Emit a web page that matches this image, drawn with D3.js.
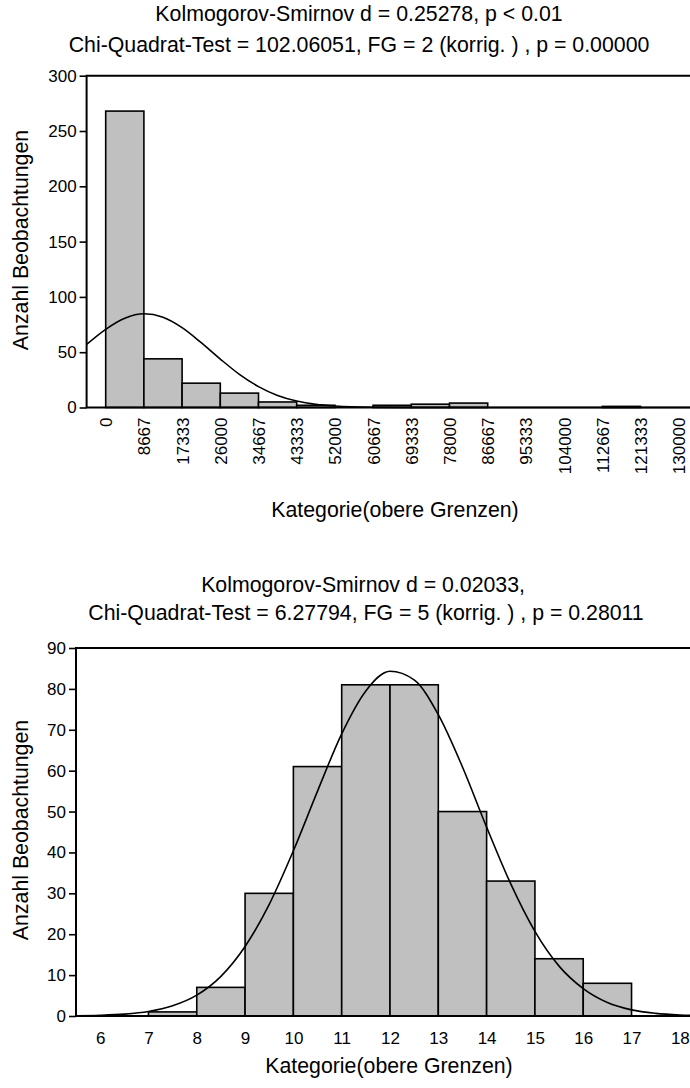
<!DOCTYPE html>
<html><head><meta charset="utf-8">
<script src="https://cdn.jsdelivr.net/npm/d3@7"></script>
<style>
body{margin:0;background:#fff}
svg{display:block;background:#fff}
text{font-family:"Liberation Sans",Arial,sans-serif;fill:#000}
</style>
</head><body>
<svg id="c" width="690" height="1088"></svg>
<script>
// ---------- Chart 1 data ----------
const titles1 = ["Kolmogorov-Smirnov d = 0.25278, p < 0.01",
                 "Chi-Quadrat-Test = 102.06051, FG = 2 (korrig. ) , p = 0.00000"];
const edges1 = [0, 8667, 17333, 26000, 34667, 43333, 52000, 60667, 69333, 78000,
                86667, 95333, 104000, 112667, 121333, 130000];
const counts1 = [268, 44, 22, 13, 5, 2, 0, 2, 3, 4, 0, 0, 0, 1, 0];
const yTicks1 = [0, 50, 100, 150, 200, 250, 300];
const curveX1 = [-4333, 0, 4333, 8667, 13000, 17333, 21667, 26000, 30333, 34667,
                 39000, 43333, 47667, 52000, 60667, 69333, 78000, 104000, 136000];
const curveY1 = [57, 70.7, 80.7, 84.7, 81.6, 72.2, 58.6, 43.8, 30.0, 18.9,
                 10.9, 5.8, 2.8, 1.3, 0.2, 0, 0, 0, 0];

// ---------- Chart 2 data ----------
const titles2 = ["Kolmogorov-Smirnov d = 0.02033, ",
                 "Chi-Quadrat-Test = 6.27794, FG = 5 (korrig. ) , p = 0.28011"];
const xTicks2 = [6, 7, 8, 9, 10, 11, 12, 13, 14, 15, 16, 17, 18];
const counts2 = [0, 1, 7, 30, 61, 81, 81, 50, 33, 14, 8, 0]; // bins 6-7 ... 17-18
const yTicks2 = [0, 10, 20, 30, 40, 50, 60, 70, 80, 90];
const curveX2 = [5.5, 6, 6.5, 7, 7.5, 8, 8.5, 9, 9.5, 10, 10.5, 11, 11.5, 12, 12.5,
                 13, 13.5, 14, 14.5, 15, 15.5, 16, 16.5, 17, 17.5, 18, 18.5];
const curveY2 = [0.06, 0.17, 0.45, 1.1, 2.5, 5.1, 9.7, 17.0, 27.3, 40.4, 55.0, 69.0, 79.5,
                 84.3, 82.2, 73.7, 60.9, 46.2, 32.3, 20.7, 12.2, 6.7, 3.3, 1.5, 0.65, 0.25, 0.1];

const xLabel = "Kategorie(obere Grenzen)";
const yLabel = "Anzahl Beobachtungen";

const svg = d3.select("#c");
const FT = 21.3;   // titles
const FA = 21.3;   // axis titles
const FK = 17;     // tick labels

function drawTitles(lines, cx, ys) {
  lines.forEach((t, i) => {
    svg.append("text").attr("x", cx).attr("y", ys[i]).attr("xml:space", "preserve")
      .attr("text-anchor", "middle").style("font-size", FT + "px").text(t);
  });
}

// ================= Chart 1 =================
(function () {
  const bw = 8666.67;
  const x = d3.scaleLinear().domain([-0.5 * bw, 15.5 * bw]).range([86.6, 697.8]);
  const y = d3.scaleLinear().domain([0, 300]).range([407.5, 75.7]);
  const g = svg.append("g");

  drawTitles(titles1, 359, [21, 52]);

  g.selectAll("rect.bar").data(counts1).join("rect")
    .attr("x", (d, i) => x(i * bw))
    .attr("width", (d, i) => x((i + 1) * bw) - x(i * bw))
    .attr("y", d => y(d))
    .attr("height", d => y(0) - y(d))
    .attr("fill", "#c0c0c0").attr("stroke", "#000").attr("stroke-width", 1.6)
    .attr("display", d => d > 0 ? null : "none");

  const line = d3.line().x(d => x(d[0])).y(d => y(d[1])).curve(d3.curveMonotoneX);
  g.append("path").datum(curveX1.map((v, i) => [v, curveY1[i]]))
    .attr("d", line).attr("fill", "none").attr("stroke", "#000").attr("stroke-width", 1.6);

  g.append("path")
    .attr("d", `M${x.range()[1]},${y(300)}H${x.range()[0]}V${y(0)}H${x.range()[1]}`)
    .attr("fill", "none").attr("stroke", "#000").attr("stroke-width", 2);

  const ya = g.append("g").attr("transform", `translate(${x.range()[0]},0)`)
    .call(d3.axisLeft(y).tickValues(yTicks1).tickSize(7).tickPadding(3));
  ya.select(".domain").remove();
  ya.selectAll("line").attr("stroke-width", 1.6);
  ya.selectAll("text").style("font-size", FK + "px").style("font-family", null);

  const xa = g.append("g").attr("transform", `translate(0,${y(0)})`)
    .call(d3.axisBottom(x).tickValues(edges1).tickSize(0).tickFormat(d3.format("d")));
  xa.select(".domain").remove();
  xa.selectAll("text")
    .attr("transform", "rotate(-90)")
    .attr("x", -10).attr("y", 0).attr("dy", "0.35em")
    .style("text-anchor", "end").style("font-size", FK + "px").style("font-family", null);

  svg.append("text").attr("x", 395).attr("y", 517).attr("text-anchor", "middle")
    .style("font-size", FA + "px").text(xLabel);
  svg.append("text").attr("transform", "translate(28,240) rotate(-90)")
    .attr("text-anchor", "middle").style("font-size", FA + "px").text(yLabel);
})();

// ================= Chart 2 =================
(function () {
  const x = d3.scaleLinear().domain([5.5, 18.5]).range([76, 704]);
  const y = d3.scaleLinear().domain([0, 90]).range([1016, 648]);
  const g = svg.append("g");

  drawTitles(titles2, 366, [592, 620]);

  g.selectAll("rect.bar").data(counts2).join("rect")
    .attr("x", (d, i) => x(6 + i))
    .attr("width", (d, i) => x(7 + i) - x(6 + i))
    .attr("y", d => y(d))
    .attr("height", d => y(0) - y(d))
    .attr("fill", "#c0c0c0").attr("stroke", "#000").attr("stroke-width", 1.6)
    .attr("display", d => d > 0 ? null : "none");

  const line = d3.line().x(d => x(d[0])).y(d => y(d[1])).curve(d3.curveMonotoneX);
  g.append("path").datum(curveX2.map((v, i) => [v, curveY2[i]]))
    .attr("d", line).attr("fill", "none").attr("stroke", "#000").attr("stroke-width", 1.6);

  g.append("path")
    .attr("d", `M${x.range()[1]},${y(90)}H${x.range()[0]}V${y(0)}H${x.range()[1]}`)
    .attr("fill", "none").attr("stroke", "#000").attr("stroke-width", 2);

  const ya = g.append("g").attr("transform", `translate(${x.range()[0]},0)`)
    .call(d3.axisLeft(y).tickValues(yTicks2).tickSize(7).tickPadding(3));
  ya.select(".domain").remove();
  ya.selectAll("line").attr("stroke-width", 1.6);
  ya.selectAll("text").style("font-size", FK + "px").style("font-family", null);

  const xa = g.append("g").attr("transform", `translate(0,${y(0)})`)
    .call(d3.axisBottom(x).tickValues(xTicks2).tickSize(0).tickPadding(16));
  xa.select(".domain").remove();
  xa.selectAll("text").style("font-size", FK + "px").style("font-family", null);

  svg.append("text").attr("x", 389).attr("y", 1073).attr("text-anchor", "middle")
    .style("font-size", FA + "px").text(xLabel);
  svg.append("text").attr("transform", "translate(28,830) rotate(-90)")
    .attr("text-anchor", "middle").style("font-size", FA + "px").text(yLabel);
})();
</script>
</body></html>
